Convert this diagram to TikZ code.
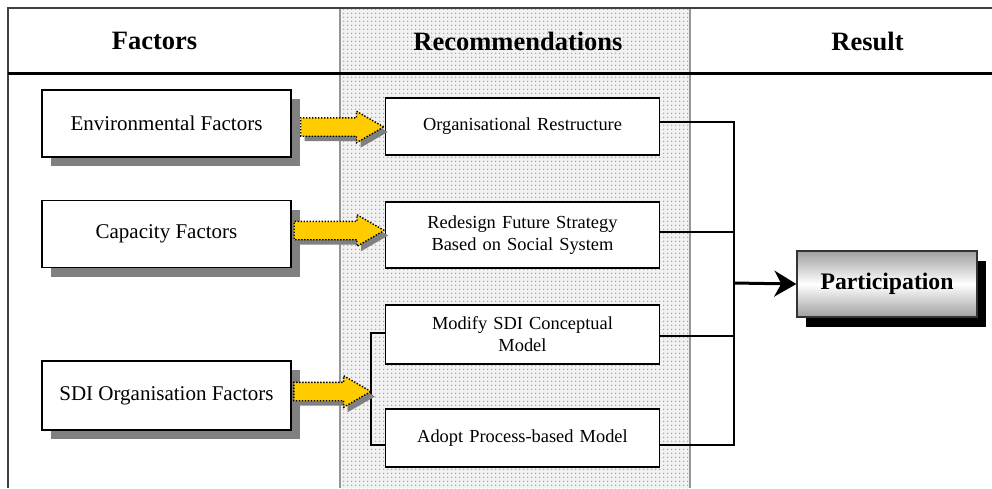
\documentclass[tikz,border=0pt]{standalone}
\usepackage{fontspec}
\setmainfont{Liberation Serif}
\usetikzlibrary{shapes.arrows,shadows,patterns.meta,calc,arrows.meta}
\definecolor{arrowyellow}{RGB}{255,204,0}
\definecolor{colborder}{RGB}{150,150,150}
\begin{document}
\begin{tikzpicture}[x=1pt,y=-1pt,
  hdr/.style={font=\bfseries\fontsize{26.5}{30}\selectfont, inner sep=0pt},
  factorbox/.style={draw=black, line width=1.6pt, fill=white, minimum width=249pt, minimum height=67pt,
     font=\fontsize{21}{24}\selectfont, align=center,
     drop shadow={shadow xshift=9pt, shadow yshift=-9pt, fill=gray, opacity=1}},
  recbox/.style={draw=black, line width=1.6pt, fill=white, minimum width=274pt, text width=260pt,
     align=center, font=\fontsize{18.4}{22}\selectfont, inner sep=0pt},
  fatarrow/.style={single arrow, draw=black, dash pattern=on 1.4pt off 1.6pt, line width=1.4pt,
     fill=arrowyellow, single arrow head extend=6.5pt, single arrow tip angle=60,
     inner xsep=0pt, inner ysep=8.5pt, outer sep=0pt,
     drop shadow={shadow xshift=4pt, shadow yshift=-5pt, fill=gray, opacity=1}},
  conn/.style={draw=black, line width=2pt},
  thinconn/.style={draw=black, line width=1.4pt},
  partbox/.style={draw=black!80, line width=1.4pt, minimum width=180pt, minimum height=66pt,
     top color=gray!75, bottom color=gray!75, middle color=white,
     font=\bfseries\fontsize{23.7}{26}\selectfont,
     drop shadow={shadow xshift=9pt, shadow yshift=-10pt, fill=black, opacity=1}}
]
\useasboundingbox (0,0) rectangle (992,488);

% middle shaded column
\fill[gray!10] (340,8) rectangle (690,488);
\fill[pattern={Dots[distance=4pt, radius=1pt]}, pattern color=gray!65] (340,8) rectangle (690,488);
\draw[colborder, line width=2pt] (340,8) -- (340,488) (690,8) -- (690,488);

% frame
\draw[black!75, line width=1.4pt] (8,488) -- (8,8) -- (992,8);
\draw[black, line width=3pt] (8,73) -- (992,73);

% headers
\node[hdr] (h1) at (154.5,41) {Factors};
\node[hdr] (h2) at (518,41) {Recommendations};
\node[hdr] (h3) at (867.5,41) {Result};

% factor boxes
\node[factorbox] (env) at (166.5,123.5) {Environmental Factors};
\node[factorbox] (cap) at (166.5,234) {Capacity Factors};
\node[factorbox, minimum height=69pt] (sdi) at (166.5,395.5) {SDI Organisation Factors};

% recommendation boxes
\node[recbox, minimum height=57pt] (org) at (522.5,126.5) {Organisational Restructure};
\node[recbox, minimum height=66pt] (red) at (522.5,235) {Redesign Future Strategy\\Based on Social System};
\node[recbox, minimum height=59pt] (mod) at (522.5,334.5) {Modify SDI Conceptual\\Model};
\node[recbox, minimum height=58pt] (ado) at (522.5,438) {Adopt Process-based Model};

% result
\node[partbox] (part) at (887,284) {Participation};

% fat arrows
\node[fatarrow, minimum height=83pt] (a1) at ($(env.east)!0.5!(org.west)+(-4,2)$) {};
\node[fatarrow, minimum height=90pt] (a2) at ($(cap.east)!0.5!(red.west)+(-7,-4)$) {};

% bracket for SDI
\coordinate (brTop) at (371,333);
\coordinate (brBot) at (371,445);
\draw[thinconn] (mod.west |- brTop) -- (brTop) -- (brBot) -- (ado.west |- brBot);
\node[fatarrow, minimum height=77pt] (a3) at ($(sdi.east)!0.5!(brTop |- sdi.east)+(-7,-4)$) {};

% bus to result
\coordinate (busTop) at (734,122);
\coordinate (busBot) at (734,445);
\coordinate (busMid) at (734,283);
\draw[conn] (org.east |- busTop) -- (busTop) -- (busBot) -- (ado.east |- busBot);
\draw[conn] ([yshift=3pt]red.east) -- ([yshift=3pt]red.east -| busTop);
\draw[conn] ([yshift=-1.5pt]mod.east) -- ([yshift=-1.5pt]mod.east -| busTop);
\draw[black, line width=3pt, -{Stealth[length=22pt, width=26pt, inset=7pt]}] (busMid) -- (part.west);
\end{tikzpicture}
\end{document}
